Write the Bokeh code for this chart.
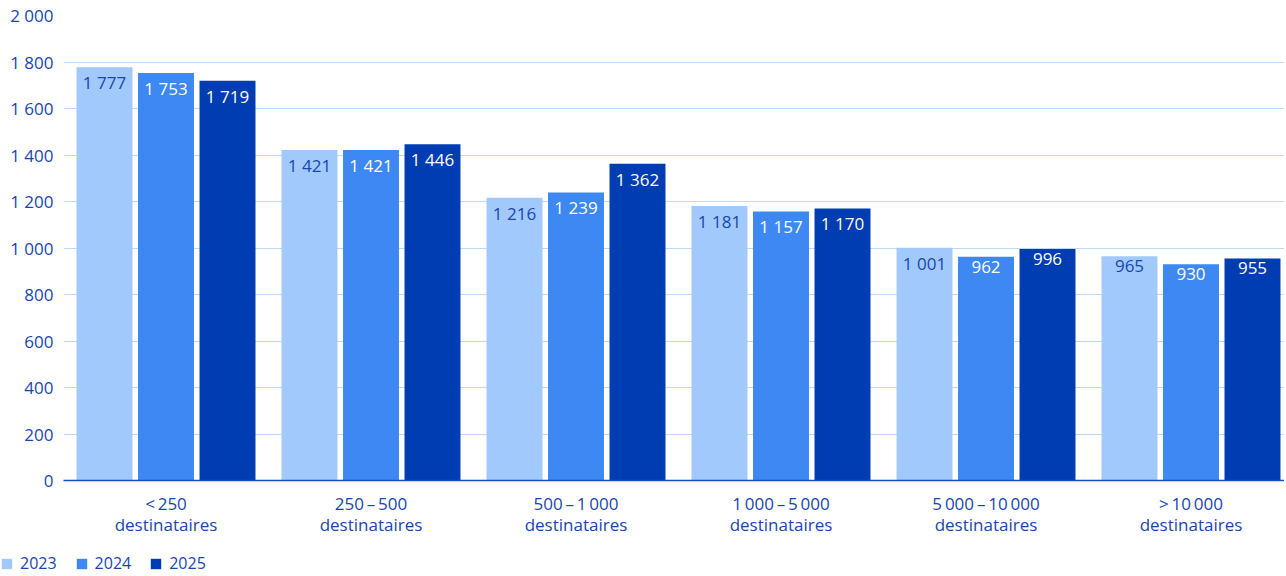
from bokeh.plotting import figure
from bokeh.layouts import column, row
from bokeh.models import Range1d, FixedTicker, ColumnDataSource, Legend, LegendItem
from bokeh.transform import dodge
from bokeh.core.properties import value
from bokeh.embed import file_html
from bokeh.resources import INLINE

categories = ["<\u2009250\ndestinataires", "250\u2009\u2013\u2009500\ndestinataires",
              "500\u2009\u2013\u20091\u2009000\ndestinataires", "1\u2009000\u2009\u2013\u20095\u2009000\ndestinataires",
              "5\u2009000\u2009\u2013\u200910\u2009000\ndestinataires", ">\u200910\u2009000\ndestinataires"]
years = ["2023", "2024", "2025"]
v2023 = [1777, 1421, 1216, 1181, 1001, 965]
v2024 = [1753, 1421, 1239, 1157, 962, 930]
v2025 = [1719, 1446, 1362, 1170, 996, 955]
y_ticks = [0, 200, 400, 600, 800, 1000, 1200, 1400, 1600, 1800, 2000]

colors = ["#a2c9fb", "#3e88f3", "#003cb2"]
label_colors = ["#1746b0", "#ffffff", "#ffffff"]
text_blue = "#1746b0"
FONT = "Open Sans"
FS = "17px"

def fmt(v):
    return f"{v:,}".replace(",", " ")

xs = [i + 0.5 for i in range(len(categories))]
src = ColumnDataSource(dict(
    x=xs,
    v2023=v2023, v2024=v2024, v2025=v2025,
    l2023=[fmt(v) for v in v2023], l2024=[fmt(v) for v in v2024], l2025=[fmt(v) for v in v2025],
))

W = 1284
LEFT = 63
p = figure(width=W, height=552, output_backend="svg", toolbar_location=None,
           x_range=Range1d(0, (W - LEFT) / 205), y_range=Range1d(0, 2000),
           min_border_left=LEFT, min_border_right=0, min_border_top=15, min_border_bottom=72)
p.outline_line_color = None
p.background_fill_color = "white"
p.border_fill_color = "white"

offsets = [-0.3, 0.0, 0.3]
for yr, off, col, lc in zip(years, offsets, colors, label_colors):
    p.vbar(x=dodge("x", off), top="v" + yr, width=0.273, source=src,
           fill_color=col, line_color=None)
    p.text(x=dodge("x", off), y="v" + yr, text="l" + yr, source=src,
           text_align="center", text_baseline="top", y_offset=4,
           text_font=value(FONT), text_font_size=FS, text_color=lc)

p.xgrid.grid_line_color = None
p.ygrid.grid_line_color = "#bcd9f8"
p.ygrid.grid_line_width = 1
p.yaxis.ticker = FixedTicker(ticks=y_ticks)
p.yaxis.major_label_overrides = {t: fmt(t) for t in y_ticks}
p.yaxis.axis_line_color = None
p.yaxis.major_tick_line_color = None
p.yaxis.major_tick_out = 0
p.yaxis.minor_tick_line_color = None
p.yaxis.major_label_standoff = 10
p.yaxis.major_label_text_font = FONT
p.yaxis.major_label_text_font_size = FS
p.yaxis.major_label_text_color = text_blue

p.xaxis.ticker = FixedTicker(ticks=xs)
p.xaxis.major_label_overrides = {x: c for x, c in zip(xs, categories)}
p.xaxis.axis_line_color = "#1a4cc0"
p.xaxis.axis_line_width = 1.5
p.xaxis.major_tick_line_color = None
p.xaxis.major_tick_out = 0
p.xaxis.minor_tick_line_color = None
p.xaxis.major_label_standoff = 11
p.xaxis.major_label_text_font = FONT
p.xaxis.major_label_text_font_size = FS
p.xaxis.major_label_text_color = text_blue
p.xaxis.major_label_text_line_height = 0.95

# legend strip
lg = figure(width=W, height=22, output_backend="svg", toolbar_location=None,
            x_range=Range1d(0, 1), y_range=Range1d(0, 1),
            x_axis_location=None, y_axis_location=None,
            min_border_left=0, min_border_right=0, min_border_top=0, min_border_bottom=0)
lg.outline_line_color = None
lg.grid.visible = False
lg_renderers = [lg.vbar(x=[0], top=[0], width=0, fill_color=c, line_color=None) for c in colors]
legend = Legend(items=[LegendItem(label=yr, renderers=[r]) for yr, r in zip(years, lg_renderers)],
                orientation="horizontal", location="top_left",
                glyph_width=13, glyph_height=13, label_height=13,
                label_text_font=FONT, label_text_font_size="16px", label_text_color=text_blue,
                label_standoff=7, spacing=18, padding=0, margin=0,
                border_line_color=None, background_fill_alpha=0)
lg.add_layout(legend, "center")

layout = column(p, row(lg), spacing=0)
open("out.html", "w").write(file_html(layout, INLINE))
